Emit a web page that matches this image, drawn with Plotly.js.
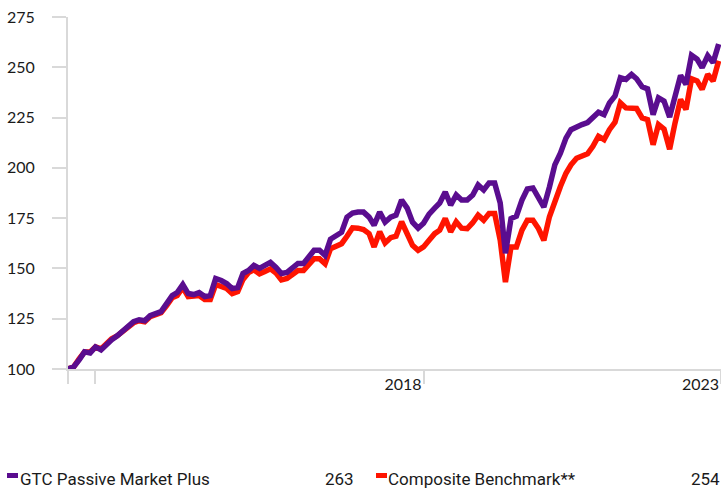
<!DOCTYPE html>
<html>
<head>
<meta charset="utf-8">
<script src="https://cdn.plot.ly/plotly-3.0.1.min.js"></script>
<style>
  html, body { margin: 0; padding: 0; background: #ffffff; }
  #chart { width: 721px; height: 489px; }
</style>
</head>
<body>
<div id="chart"></div>
<script>
// Month categories (Jul 2013 .. Jun 2023), monthly
const startYear = 2013, startMonth = 7, nMonths = 120;
const months = [];
for (let k = 0; k < nMonths; k++) {
  const idx = startMonth - 1 + k;
  const y = startYear + Math.floor(idx / 12);
  const m = (idx % 12) + 1;
  months.push(y + '-' + String(m).padStart(2, '0'));
}

const seriesNames = ['GTC Passive Market Plus', 'Composite Benchmark**'];
const legendValues = ['263', '254'];

// GTC Passive Market Plus (indexed to 100)
const gtc = [
  100, 101, 104.5, 108.5, 108, 111, 109.5, 112.5, 114.5, 116.5,
  119, 121.5, 123.5, 124.5, 124, 126.5, 127.5, 128.5, 132.5, 136.5,
  138, 142, 137.5, 137, 138, 136, 136.5, 145, 144, 142.5,
  140, 140.5, 147.5, 149, 151.5, 150, 151.5, 153, 150.5, 147.5,
  148, 150, 152.5, 152.5, 156, 159, 159, 156.5, 164.5, 166.5,
  168, 175.5, 177.5, 178, 178, 175.5, 171.5, 178, 173, 175.5,
  176.5, 184, 180, 173, 170, 172.5, 177, 180, 182.5, 188,
  181.5, 186.5, 184, 184, 186.5, 191.5, 189, 192.5, 192.5, 182.5,
  157.5, 174.8, 176, 184, 189.5, 190, 185.5, 180.5, 190.5, 201.5,
  207.3, 214.8, 219, 220.5, 221.5, 222.5, 224.8, 227.7, 226.5, 232.3,
  235.7, 244.8, 244, 246.5, 244.3, 240.3, 239.3, 226.5, 234.8, 233.2,
  225.3, 235.7, 246, 241.5, 256, 254, 249.8, 255.7, 252.3, 261.5
];

// Composite Benchmark** (indexed to 100)
const bench = [
  100, 101, 105, 108.5, 108.5, 111, 110, 112.5, 115, 116.5,
  118.5, 121, 123, 124, 123.5, 126, 127, 128, 131.5, 135.5,
  136.5, 140.5, 136, 136, 136.5, 134.5, 134.5, 142, 141, 140,
  137.5, 138.5, 144.5, 148, 149.3, 147.3, 148.5, 149.8, 147.7, 144.3,
  145, 147, 149, 149, 152, 154.8, 154.8, 152.3, 159.8, 161,
  162.3, 166, 170.2, 170, 169.3, 167.3, 160.7, 168.2, 162.7, 165.3,
  166, 173.2, 167.3, 161.5, 159, 160.7, 164, 167.3, 169, 174.8,
  168.2, 173.2, 170, 169.8, 172.7, 176.5, 174, 177.3, 177.3, 164,
  143.2, 160.7, 160.7, 169, 174, 174, 169.8, 164, 175.7, 184,
  190.7, 197.3, 201.5, 204.8, 206, 207, 210.7, 215.7, 214, 219,
  222.7, 232.3, 229.8, 229.8, 229.5, 224.8, 224, 211.5, 221.5, 219.3,
  209.3, 222.3, 234, 229, 244.3, 243.2, 239, 246.5, 243.2, 253.2
];

const yTicks = [100, 125, 150, 175, 200, 225, 250, 275];
const xTickVals = ['2013-07-01', '2013-12-01', '2018-12-01', '2023-06-14'];
const xTickText = ['', '', '2018', '2023'];

const purple = '#5a0d8f';
const red = '#ff1400';
const grey = '#d9d9d9';

const W = 721, H = 489;
const margin = { l: 68, r: 0, t: 17, b: 120 };
const plotW = W - margin.l - margin.r;
const plotH = H - margin.t - margin.b;
const px2x = (px) => (px - margin.l) / plotW;
const px2y = (py) => (H - margin.b - py) / plotH;

const traces = [
  {
    x: months, y: bench, type: 'scatter', mode: 'lines', name: seriesNames[1],
    line: { color: red, width: 5.5 }, hoverinfo: 'skip'
  },
  {
    x: months, y: gtc, type: 'scatter', mode: 'lines', name: seriesNames[0],
    line: { color: purple, width: 5.5 }, hoverinfo: 'skip'
  }
];

const legFont = { family: 'Roboto', size: 17, color: '#1a1a1a' };
const legY = px2y(479);
const tickFont = { family: 'Lato', size: 16, color: '#1a1a1a' };

const layout = {
  width: W, height: H,
  margin: margin,
  paper_bgcolor: '#ffffff', plot_bgcolor: '#ffffff',
  showlegend: false,
  font: tickFont,
  xaxis: {
    type: 'date',
    range: ['2013-07-01', '2023-06-14'],
    tickmode: 'array', tickvals: xTickVals, ticktext: xTickText,
    ticks: 'outside', ticklen: 13, tickwidth: 2, tickcolor: grey,
    ticklabelposition: 'outside left',
    showline: true, linecolor: grey, linewidth: 2,
    showgrid: false, zeroline: false,
    tickfont: tickFont
  },
  yaxis: {
    range: [100, 275],
    tickmode: 'array', tickvals: yTicks,
    ticks: 'outside', ticklen: 14, tickwidth: 2, tickcolor: grey,
    ticklabelstandoff: 14,
    showline: true, linecolor: grey, linewidth: 2,
    showgrid: false, zeroline: false,
    tickfont: tickFont
  },
  shapes: [
    { type: 'rect', xref: 'paper', yref: 'paper', x0: px2x(7), x1: px2x(18), y0: px2y(478), y1: px2y(473), fillcolor: purple, line: { width: 0 } },
    { type: 'rect', xref: 'paper', yref: 'paper', x0: px2x(376), x1: px2x(387), y0: px2y(478), y1: px2y(473), fillcolor: red, line: { width: 0 } }
  ],
  annotations: [
    { xref: 'paper', yref: 'paper', x: px2x(18), y: legY, xanchor: 'left', yanchor: 'middle', text: seriesNames[0], showarrow: false, font: legFont },
    { xref: 'paper', yref: 'paper', x: px2x(356), y: legY, xanchor: 'right', yanchor: 'middle', text: legendValues[0], showarrow: false, font: legFont },
    { xref: 'paper', yref: 'paper', x: px2x(386), y: legY, xanchor: 'left', yanchor: 'middle', text: seriesNames[1], showarrow: false, font: legFont },
    { xref: 'paper', yref: 'paper', x: px2x(722), y: legY, xanchor: 'right', yanchor: 'middle', text: legendValues[1], showarrow: false, font: legFont }
  ]
};

Plotly.newPlot('chart', traces, layout, { staticPlot: true, displayModeBar: false });
</script>
</body>
</html>
